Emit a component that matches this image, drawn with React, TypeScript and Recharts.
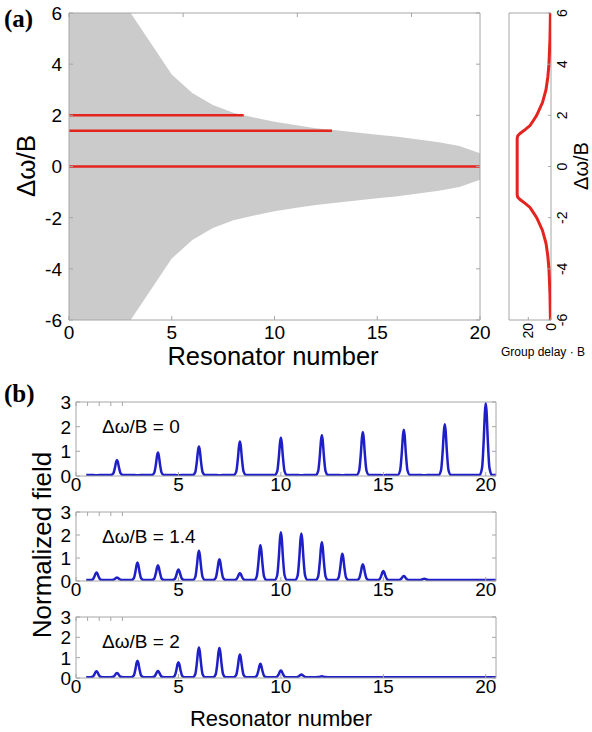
import React from "react";
import {
  ComposedChart,
  Area,
  Line,
  XAxis,
  YAxis,
  ScatterChart,
  Scatter,
  ReferenceLine,
} from "recharts";

// (a) pass band of the resonator chain: x = resonator number, half width in Δω/B
const bandX = [0, 3, 4, 5, 6, 7, 8, 9, 10, 11, 12, 13, 14, 15, 16, 17, 18, 19, 20];
const bandHalf = [6, 6, 4.8, 3.6, 2.87, 2.4, 2.1, 1.92, 1.75, 1.62, 1.5, 1.42, 1.33, 1.24, 1.16, 1.06, 0.95, 0.8, 0.52];

// red detuning lines: level and the resonator where they stop
const detuneLevels = [2, 1.4, 0];
const detuneEnds = [8.5, 12.8, 20];

// (a) right: group delay vs detuning
const gdDetune = [6, 5, 4, 3.5, 3, 2.5, 2, 1.8, 1.6, 1.45, 1.3, 1.2, 1.1, 0, -1.1, -1.2, -1.3, -1.45, -1.6, -1.8, -2, -2.5, -3, -3.5, -4, -5, -6];
const gdDelay = [0.5, 0.9, 1.8, 2.8, 4.4, 7.5, 12.6, 15.5, 18.5, 22.5, 27, 29.3, 29.8, 29.8, 29.8, 29.3, 27, 22.5, 18.5, 15.5, 12.6, 7.5, 4.4, 2.8, 1.8, 0.9, 0.5];

// (b) peak field in each resonator 1..20
const resonators = [1, 2, 3, 4, 5, 6, 7, 8, 9, 10, 11, 12, 13, 14, 15, 16, 17, 18, 19, 20];
const field0 = [0.03, 0.65, 0.03, 0.95, 0.03, 1.2, 0.03, 1.4, 0.04, 1.55, 0.03, 1.65, 0.03, 1.78, 0.03, 1.88, 0.03, 2.1, 0.04, 2.95];
const field14 = [0.37, 0.15, 0.8, 0.68, 0.5, 1.32, 0.95, 0.34, 1.55, 2.12, 2.07, 1.68, 1.18, 0.73, 0.43, 0.22, 0.1, 0.04, 0.04, 0.04];
const field2 = [0.33, 0.25, 0.85, 0.35, 0.78, 1.5, 1.48, 1.15, 0.7, 0.37, 0.17, 0.08, 0.04, 0.04, 0.04, 0.04, 0.04, 0.04, 0.04, 0.04];

const FRAME = "#a6a6a6";
const RED = "#e3241f";
const BLUE = "#1f1fc8";
const SANS = "'Liberation Sans', Arial, sans-serif";
const SERIF = "'Liberation Serif', 'Times New Roman', serif";

const BASE = 0.04;
// peak profile around each resonator position
const peakOffsets = [-0.3, -0.18, -0.1, -0.04, 0, 0.04, 0.1, 0.18, 0.3];
const peakShape = [0, 0.1, 0.48, 0.88, 1, 0.88, 0.48, 0.1, 0];

function fieldRows(peaks: number[]) {
  const rows: { x: number; f: number }[] = [{ x: 0.5, f: BASE }];
  resonators.forEach((n, i) => {
    peakOffsets.forEach((d, k) => {
      rows.push({ x: n + d, f: BASE + (peaks[i] - BASE) * peakShape[k] });
    });
  });
  rows.push({ x: 20.5, f: BASE });
  return rows;
}

const bandRows = bandX.map((x, i) => ({ x, band: [-bandHalf[i], bandHalf[i]] }));
const gdRows = gdDetune.map((d, i) => ({ gd: gdDelay[i], dw: d }));

// ---- tick renderers (ticks point inward, MATLAB style) ----
const mkBottom = (fs: number, gap: number, len: number) => (p: any) => (
  <g>
    <line x1={p.x} y1={p.y} x2={p.x} y2={p.y - len} stroke={FRAME} />
    <text x={p.x} y={p.y + gap} textAnchor="middle" fontSize={fs} fontFamily={SANS} fill="#000">
      {p.payload.value}
    </text>
  </g>
);
const mkLeft = (fs: number, gap: number, len: number) => (p: any) => (
  <g>
    <line x1={p.x} y1={p.y} x2={p.x + len} y2={p.y} stroke={FRAME} />
    <text x={p.x - gap} y={p.y + fs * 0.36} textAnchor="end" fontSize={fs} fontFamily={SANS} fill="#000">
      {p.payload.value}
    </text>
  </g>
);
const mkTop = (len: number) => (p: any) => (
  <line x1={p.x} y1={p.y} x2={p.x} y2={p.y + len} stroke={FRAME} />
);
const mkRight = (len: number) => (p: any) => (
  <line x1={p.x} y1={p.y} x2={p.x - len} y2={p.y} stroke={FRAME} />
);

const axisBase = {
  stroke: FRAME,
  tickLine: false,
  tickSize: 0,
  tickMargin: 0,
  interval: 0 as const,
  allowDataOverflow: true,
  type: "number" as const,
};

function PanelA() {
  return (
    <ComposedChart
      width={500}
      height={360}
      data={bandRows}
      margin={{ top: 12, right: 19, bottom: 0, left: 0 }}
      style={{ position: "absolute", left: 0, top: 0 }}
    >
      <Area
        dataKey="band"
        type="linear"
        fill="#cbcbcb"
        fillOpacity={1}
        stroke="none"
        isAnimationActive={false}
      />
      {detuneLevels.map((lv, i) => (
        <ReferenceLine
          key={lv}
          segment={[
            { x: 0, y: lv },
            { x: detuneEnds[i], y: lv },
          ]}
          stroke={RED}
          strokeWidth={2.5}
        />
      ))}
      <XAxis {...axisBase} dataKey="x" domain={[0, 20]} ticks={[0, 5, 10, 15, 20]} height={40} tick={mkBottom(19, 19, 4)} />
      <XAxis {...axisBase} xAxisId="t" orientation="top" domain={[0, 20]} ticks={[0, 5, 10, 15, 20]} height={1} tick={mkTop(4)} />
      <YAxis {...axisBase} domain={[-6, 6]} ticks={[-6, -4, -2, 0, 2, 4, 6]} width={69} tick={mkLeft(19, 7, 4)} />
      <YAxis {...axisBase} yAxisId="r" orientation="right" domain={[-6, 6]} ticks={[-6, -4, -2, 0, 2, 4, 6]} width={1} tick={mkRight(4)} />
    </ComposedChart>
  );
}

const rotTick = (anchor: "start" | "middle" | "end", dx: number, dy: number, len: number, dir: "x" | "y") => (p: any) => (
  <g>
    {dir === "x" ? (
      <line x1={p.x} y1={p.y} x2={p.x} y2={p.y - len} stroke={FRAME} />
    ) : (
      <line x1={p.x} y1={p.y} x2={p.x - len} y2={p.y} stroke={FRAME} />
    )}
    <text
      transform={`translate(${p.x + dx},${p.y + dy}) rotate(-90)`}
      textAnchor={anchor}
      fontSize={14}
      fontFamily={SANS}
      fill="#000"
    >
      {p.payload.value}
    </text>
  </g>
);

function PanelDelay() {
  return (
    <ScatterChart
      width={102}
      height={360}
      margin={{ top: 12, right: 40, bottom: 0, left: 18 }}
      style={{ position: "absolute", left: 490, top: 0 }}
    >
      <Scatter
        data={gdRows}
        line={{ stroke: RED, strokeWidth: 3 }}
        lineType="joint"
        shape={() => <g />}
        isAnimationActive={false}
      />
      <XAxis {...axisBase} dataKey="gd" domain={[0, 37]} ticks={[0, 20]} reversed height={40} tick={rotTick("end", 5, 3, 3, "x")} />
      <XAxis {...axisBase} xAxisId="t" orientation="top" domain={[0, 37]} ticks={[]} reversed height={1} />
      <YAxis {...axisBase} dataKey="dw" orientation="right" domain={[-6, 6]} ticks={[-6, -4, -2, 0, 2, 4, 6]} width={1} tick={rotTick("middle", 16, 0, 3, "y")} />
      <YAxis {...axisBase} yAxisId="l" domain={[-6, 6]} ticks={[]} width={1} />
    </ScatterChart>
  );
}

interface SubProps {
  top: number;
  plotH: number;
  peaks: number[];
  label: string;
}

const PAD = 12;

function FieldPlot({ top, plotH, peaks, label }: SubProps) {
  const rows = fieldRows(peaks);
  const h = plotH + PAD + 22;
  return (
    <div style={{ position: "absolute", left: 0, top: top - PAD, width: 520, height: h }}>
      <ComposedChart
        width={520}
        height={h}
        data={rows}
        margin={{ top: PAD - 1, right: 23, bottom: 0, left: 0 }}
      >
        <Line
          dataKey="f"
          type="monotone"
          stroke={BLUE}
          strokeWidth={2.5}
          dot={false}
          isAnimationActive={false}
        />
        <XAxis {...axisBase} dataKey="x" domain={[0, 20.5]} ticks={[0, 5, 10, 15, 20]} height={22} tick={mkBottom(19, 15, 4)} />
        <XAxis {...axisBase} xAxisId="t" orientation="top" domain={[0, 20.5]} ticks={[0, 5, 10, 15, 20]} height={1} tick={mkTop(4)} />
        <YAxis {...axisBase} domain={[0, 3]} ticks={[0, 1, 2, 3]} width={76} tick={mkLeft(19, 5, 4)} />
        <YAxis {...axisBase} yAxisId="r" orientation="right" domain={[0, 3]} ticks={[0, 1, 2, 3]} width={1} tick={mkRight(4)} />
      </ComposedChart>
      <div
        style={{
          position: "absolute",
          left: 102,
          top: PAD + 15,
          fontFamily: SANS,
          fontSize: 19,
          lineHeight: "19px",
          whiteSpace: "nowrap",
        }}
      >
        {label}
      </div>
    </div>
  );
}

const txt = (extra: React.CSSProperties): React.CSSProperties => ({
  position: "absolute",
  fontFamily: SANS,
  whiteSpace: "nowrap",
  lineHeight: 1,
  ...extra,
});

export default function App() {
  return (
    <div
      style={{
        position: "absolute",
        left: 0,
        top: 0,
        width: 592,
        height: 732,
        background: "#fff",
        overflow: "hidden",
      }}
    >
      <PanelA />
      <PanelDelay />
      <div style={txt({ left: 4, top: 6, fontFamily: SERIF, fontWeight: "bold", fontSize: 25 })}>(a)</div>
      <div style={txt({ left: 26, top: 166, fontSize: 26, transform: "translate(-50%, -50%) rotate(-90deg)" })}>
        Δω/B
      </div>
      <div style={txt({ left: 273, top: 344, fontSize: 25.5, transform: "translateX(-50%)" })}>Resonator number</div>
      <div style={txt({ left: 581, top: 166, fontSize: 20, transform: "translate(-50%, -50%) rotate(-90deg)" })}>
        Δω/B
      </div>
      <div style={txt({ left: 543, top: 346, fontSize: 12, transform: "translateX(-50%)" })}>Group delay · B</div>
      <div style={txt({ left: 4, top: 381, fontFamily: SERIF, fontWeight: "bold", fontSize: 25 })}>(b)</div>
      <FieldPlot top={402} plotH={74} peaks={field0} label="Δω/B = 0" />
      <FieldPlot top={512} plotH={69} peaks={field14} label="Δω/B = 1.4" />
      <FieldPlot top={617} plotH={61} peaks={field2} label="Δω/B = 2" />
      <div style={txt({ left: 42, top: 545, fontSize: 26, transform: "translate(-50%, -50%) rotate(-90deg)" })}>
        Normalized field
      </div>
      <div style={txt({ left: 281, top: 708, fontSize: 22, transform: "translateX(-50%)" })}>Resonator number</div>
    </div>
  );
}
